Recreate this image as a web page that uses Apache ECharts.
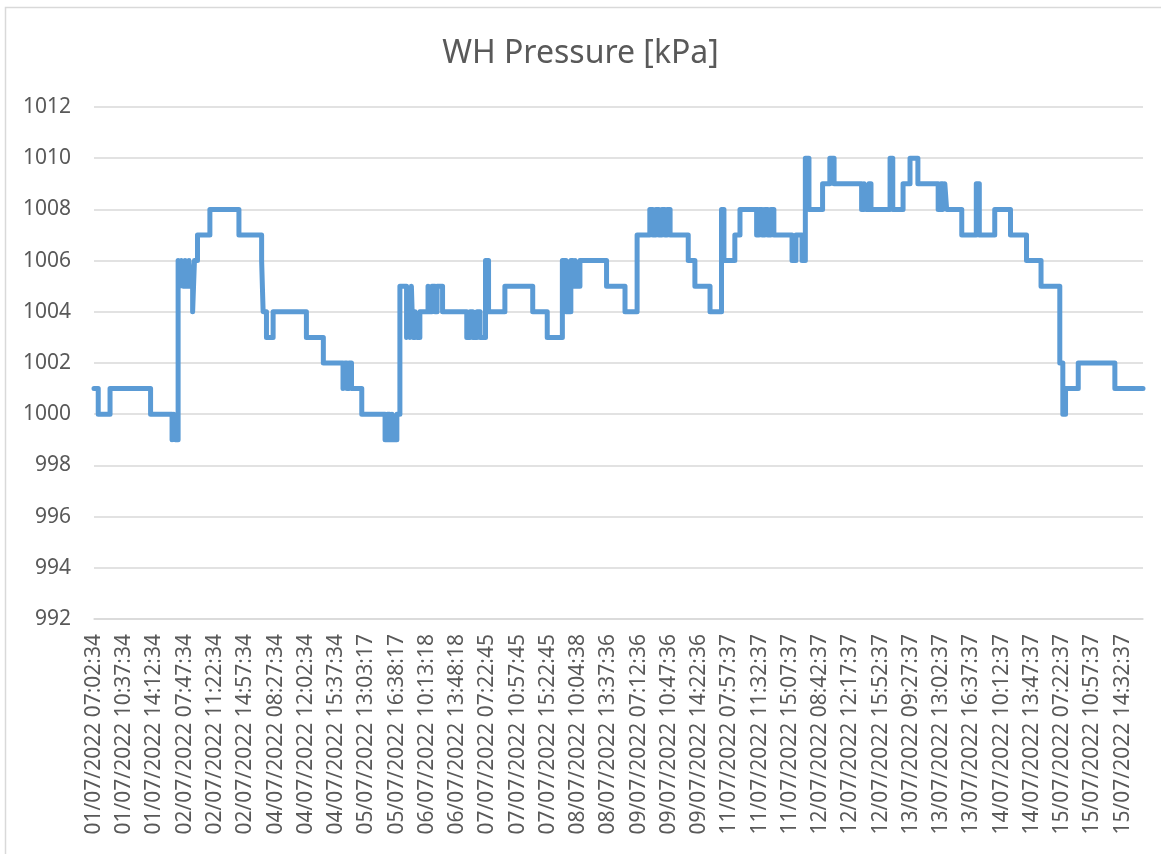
<!DOCTYPE html>
<html>
<head>
<meta charset="utf-8">
<title>WH Pressure [kPa]</title>
<script src="https://cdn.jsdelivr.net/npm/echarts@6/dist/echarts.min.js"></script>
<style>
    html, body { margin: 0; padding: 0; background: #ffffff; }
    #chart { width: 1161px; height: 854px; }
</style>
</head>
<body>
<div id="chart"></div>
<script>
// x 轴刻度标签
var tickLabels = [
    '01/07/2022 07:02:34', '01/07/2022 10:37:34', '01/07/2022 14:12:34',
    '02/07/2022 07:47:34', '02/07/2022 11:22:34', '02/07/2022 14:57:34',
    '04/07/2022 08:27:34', '04/07/2022 12:02:34', '04/07/2022 15:37:34',
    '05/07/2022 13:03:17', '05/07/2022 16:38:17', '06/07/2022 10:13:18',
    '06/07/2022 13:48:18', '07/07/2022 07:22:45', '07/07/2022 10:57:45',
    '07/07/2022 15:22:45', '08/07/2022 10:04:38', '08/07/2022 13:37:36',
    '09/07/2022 07:12:36', '09/07/2022 10:47:36', '09/07/2022 14:22:36',
    '11/07/2022 07:57:37', '11/07/2022 11:32:37', '11/07/2022 15:07:37',
    '12/07/2022 08:42:37', '12/07/2022 12:17:37', '12/07/2022 15:52:37',
    '13/07/2022 09:27:37', '13/07/2022 13:02:37', '13/07/2022 16:37:37',
    '14/07/2022 10:12:37', '14/07/2022 13:47:37', '15/07/2022 07:22:37',
    '15/07/2022 10:57:37', '15/07/2022 14:32:37'
];

// 压力变化点: 位置(以刻度标签为单位) 和 新的数值
var changeAt = [
    0.00, 0.14, 0.53, 1.87, 2.58, 2.64, 2.69, 2.78, 2.84, 2.89,
    2.94, 3.01, 3.07, 3.14, 3.19, 3.26, 3.32, 3.42, 3.83, 4.79,
    5.54, 5.59, 5.70, 5.92, 7.02, 7.58, 8.23, 8.29, 8.36, 8.43,
    8.51, 8.85, 9.62, 9.70, 9.77, 9.85, 9.91, 10.01, 10.11, 10.33,
    10.39, 10.44, 10.49, 10.54, 10.61, 10.67, 10.77, 11.04, 11.10, 11.17,
    11.27, 11.34, 11.52, 12.32, 12.43, 12.52, 12.66, 12.76, 12.94, 13.04,
    13.58, 14.50, 14.98, 15.48, 15.60, 15.76, 15.83, 15.90, 15.96, 16.06,
    16.94, 17.55, 17.95, 18.37, 18.47, 18.57, 18.67, 18.77, 18.87, 18.94,
    19.04, 19.64, 19.86, 20.36, 20.74, 20.82, 21.18, 21.35, 21.90, 21.98,
    22.08, 22.17, 22.27, 22.37, 22.47, 23.07, 23.20, 23.40, 23.51, 23.63,
    24.08, 24.32, 24.46, 25.37, 25.45, 25.51, 25.61, 25.68, 26.31, 26.40,
    26.74, 26.97, 27.23, 27.90, 27.99, 28.06, 28.12, 28.18, 28.68, 29.16,
    29.26, 29.77, 30.29, 30.82, 31.30, 31.92, 32.02, 32.11, 32.53, 33.74,
    34.67
];
var pressure = [
    1001, 1000, 1001, 1000, 999, 1000, 999, 1006, 1005, 1006,
    1005, 1006, 1005, 1006, 1005, 1004, 1006, 1007, 1008, 1007,
    1006, 1004, 1003, 1004, 1003, 1002, 1001, 1002, 1001, 1002,
    1001, 1000, 999, 1000, 999, 1000, 999, 1000, 1005, 1003,
    1004, 1003, 1005, 1003, 1004, 1003, 1004, 1005, 1004, 1005,
    1004, 1005, 1004, 1003, 1004, 1003, 1004, 1003, 1006, 1004,
    1005, 1004, 1003, 1006, 1004, 1006, 1005, 1006, 1005, 1006,
    1005, 1004, 1007, 1008, 1007, 1008, 1007, 1008, 1007, 1008,
    1007, 1006, 1005, 1004, 1008, 1006, 1007, 1008, 1007, 1008,
    1007, 1008, 1007, 1008, 1007, 1006, 1007, 1006, 1010, 1008,
    1009, 1010, 1009, 1008, 1009, 1008, 1009, 1008, 1010, 1008,
    1009, 1010, 1009, 1008, 1009, 1008, 1009, 1008, 1007, 1009,
    1007, 1008, 1007, 1006, 1005, 1002, 1000, 1001, 1002, 1001,
    1001
];

// y 轴范围
var yMin = 992;
var yMax = 1012;
var yStep = 2;

var textColor = '#595959';
var gridColor = '#d9d9d9';

function buildSeriesData() {
    var data = [];
    for (var i = 0; i < changeAt.length; i++) {
        data.push([changeAt[i], pressure[i]]);
    }
    return data;
}

function labelIndexes() {
    var list = [];
    for (var i = 0; i < tickLabels.length; i++) {
        list.push(i);
    }
    return list;
}

var myChart = echarts.init(document.getElementById('chart'), null, { renderer: 'canvas' });

var option = {
    animation: false,
    backgroundColor: '#ffffff',
    textStyle: {
        fontFamily: 'Noto Sans'
    },
    title: {
        text: 'WH Pressure [kPa]',
        left: 'center',
        top: 33,
        textStyle: {
            fontFamily: 'Noto Sans',
            fontSize: 32,
            fontWeight: 'normal',
            color: textColor
        }
    },
    // 图表外框
    graphic: [
        {
            type: 'polyline',
            silent: true,
            shape: { points: [[5.5, 860], [5.5, 7.5], [1170, 7.5]] },
            style: { stroke: gridColor, lineWidth: 1.5, fill: null }
        }
    ],
    grid: {
        left: 94,
        right: 18,
        top: 107,
        bottom: 235
    },
    xAxis: {
        type: 'value',
        min: 0,
        max: changeAt[changeAt.length - 1],
        splitLine: { show: false },
        axisTick: { show: false },
        axisLine: {
            show: true,
            lineStyle: { color: gridColor, width: 1.5 }
        },
        axisLabel: {
            customValues: labelIndexes(),
            rotate: 90,
            margin: 15,
            fontSize: 21,
            color: textColor,
            formatter: function (value) {
                return tickLabels[Math.round(value)] || '';
            }
        }
    },
    yAxis: {
        type: 'value',
        min: yMin,
        max: yMax,
        interval: yStep,
        axisLine: { show: false },
        axisTick: { show: false },
        splitLine: {
            show: true,
            lineStyle: { color: gridColor, width: 1.5 }
        },
        axisLabel: {
            margin: 23,
            fontSize: 21,
            color: textColor,
            formatter: function (value) {
                return String(value);
            }
        }
    },
    series: [
        {
            name: 'WH Pressure [kPa]',
            type: 'line',
            step: 'end',
            showSymbol: false,
            data: buildSeriesData(),
            lineStyle: {
                color: '#5b9bd5',
                width: 5,
                cap: 'round',
                join: 'round'
            }
        }
    ]
};

myChart.setOption(option);
</script>
</body>
</html>
